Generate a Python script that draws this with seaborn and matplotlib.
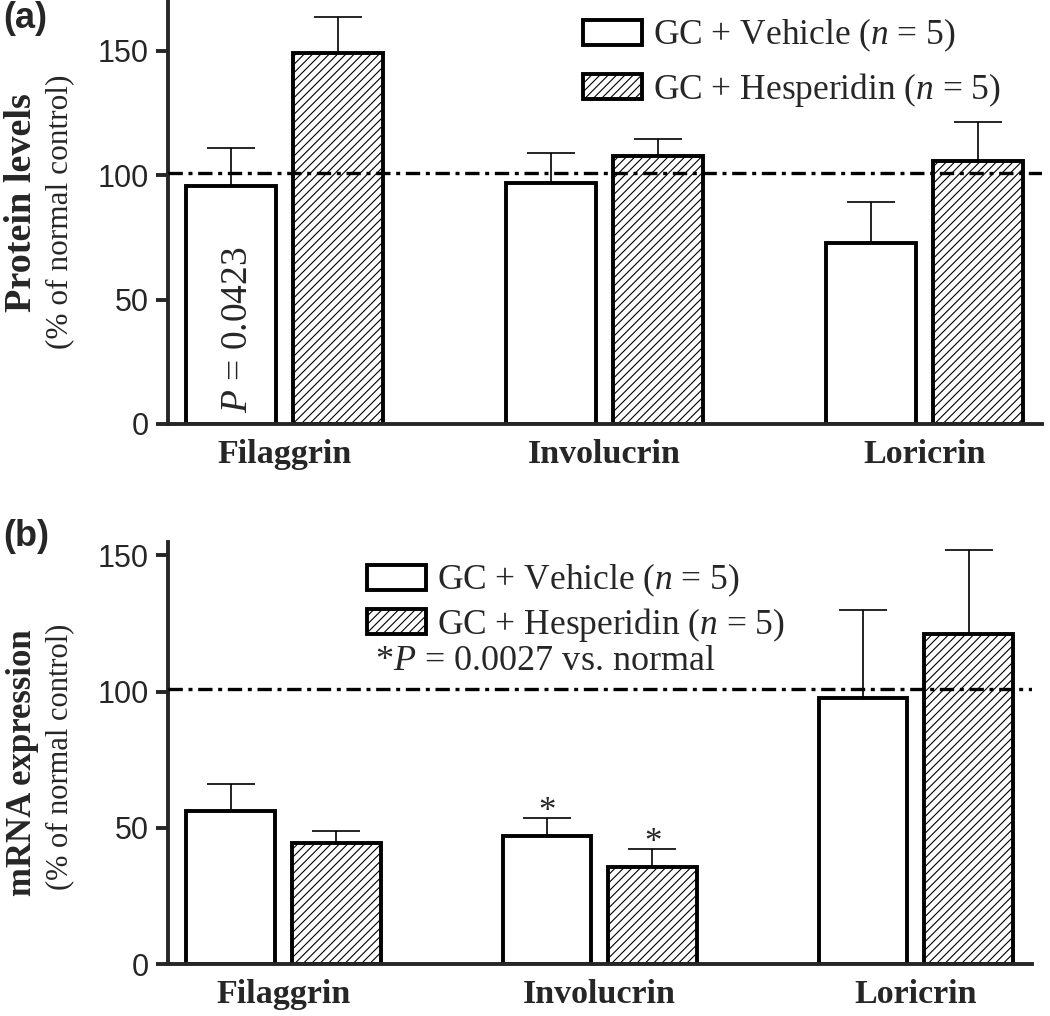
import matplotlib
matplotlib.use("Agg")
import matplotlib.pyplot as plt
import seaborn as sns
import pandas as pd

# ========== data ==========
genes = ['Filaggrin', 'Involucrin', 'Loricrin']
groups = ['GC + Vehicle ($n$ = 5)', 'GC + Hesperidin ($n$ = 5)']

protein_vehicle = [95.5, 96.8, 72.7]
protein_vehicle_sem = [15.5, 12.0, 16.7]
protein_hesp = [149.0, 107.8, 105.7]
protein_hesp_sem = [14.5, 6.7, 15.8]

mrna_vehicle = [56.3, 47.0, 97.7]
mrna_vehicle_sem = [9.7, 6.5, 32.2]
mrna_hesp = [44.6, 35.8, 121.0]
mrna_hesp_sem = [4.4, 6.5, 30.9]

normal_level = 101
yticks = [0, 50, 100, 150]

sns.set_style('ticks')
plt.rcParams['font.family'] = ['Liberation Serif', 'DejaVu Serif']
plt.rcParams['mathtext.fontset'] = 'custom'
plt.rcParams['mathtext.it'] = 'Liberation Serif:italic'
plt.rcParams['mathtext.rm'] = 'Liberation Serif'
plt.rcParams['hatch.linewidth'] = 0.8

LW = 2.8
fig = plt.figure(figsize=(10.5, 10.16), dpi=100)
W, H = 1050, 1016


def px_axes(left, top, right, bottom):
    return fig.add_axes([left / W, 1 - bottom / H, (right - left) / W, (bottom - top) / H])


def draw_panel(ax, veh, veh_sem, hes, hes_sem, ymax):
    df = pd.DataFrame({
        'gene': genes * 2,
        'group': [groups[0]] * 3 + [groups[1]] * 3,
        'value': veh + hes,
    })
    sns.barplot(data=df, x='gene', y='value', hue='group', order=genes, hue_order=groups,
                palette=['white', 'white'], edgecolor='black', linewidth=LW,
                width=0.668, gap=0.16, errorbar=None, legend=False, ax=ax)
    for bar in ax.containers[1]:
        bar.set_hatch('////')
    # upper error bars only
    for cont, sems in zip(ax.containers, [veh_sem, hes_sem]):
        xs = [b.get_x() + b.get_width() / 2 for b in cont]
        ys = [b.get_height() for b in cont]
        eb = ax.errorbar(xs, ys, yerr=[[0] * 3, sems], fmt='none', ecolor='black',
                         elinewidth=1.2, capsize=17, capthick=1.2, zorder=0.5)
        eb[1][0].set_visible(False)
    ax.axhline(normal_level, color='black', lw=2.4, ls=(0, (4.3, 1.7, 1.2, 1.7)), zorder=3)
    ax.set_xlim(-0.365, 2.367)
    ax.set_ylim(0, ymax)
    ax.set_yticks(yticks)
    ax.set_xlabel('')
    ax.set_ylabel('')
    sns.despine(ax=ax)
    for s in ['left', 'bottom']:
        ax.spines[s].set_linewidth(LW)
    ax.tick_params(axis='y', length=9, width=LW, pad=5, labelsize=22)
    ax.tick_params(axis='x', length=0, pad=10.5)
    for t in ax.get_yticklabels():
        t.set_fontfamily('Liberation Sans')
    for t in ax.get_xticklabels():
        t.set_fontsize(24.5)
        t.set_fontweight('bold')
    return ax


leg_kw = dict(loc='upper left', frameon=False, bbox_transform=fig.transFigure,
              fontsize=25.5, handlelength=1.67, handleheight=0.71, handletextpad=0.3,
              borderpad=0, borderaxespad=0)

# ---- (a) protein ----
ax1 = px_axes(168, 1.2, 1042, 424)
draw_panel(ax1, protein_vehicle, protein_vehicle_sem, protein_hesp, protein_hesp_sem, 170)
ax1.legend(ax1.containers[:2], groups, bbox_to_anchor=(583 / W, 1 - 17 / H),
           labelspacing=0.46, **leg_kw)
b0 = ax1.containers[0][0]
ax1.text(b0.get_x() + b0.get_width() * 0.57, 38, '$P$ = 0.0423', rotation=90,
         ha='center', va='center', fontsize=27)

# ---- (b) mRNA ----
ax2 = px_axes(168, 541.5, 1032, 964.3)
draw_panel(ax2, mrna_vehicle, mrna_vehicle_sem, mrna_hesp, mrna_hesp_sem, 155)
ax2.legend(ax2.containers[:2], groups, bbox_to_anchor=(367 / W, 1 - 562 / H),
           labelspacing=0.18, **leg_kw)
fig.text(375 / W, 1 - 662 / H, '*$P$ = 0.0027 vs. normal', fontsize=26, ha='left', va='center')
# significance stars over Involucrin
for cont, sems in zip(ax2.containers[:2], [mrna_vehicle_sem, mrna_hesp_sem]):
    b = cont[1]
    ax2.text(b.get_x() + b.get_width() / 2, b.get_height() + sems[1] - 4.0, '*',
             ha='center', va='bottom', fontsize=25)

# ---- axis titles and panel letters ----
fig.text(22 / W, 1 - 203 / H, 'Protein levels', rotation=90, ha='center', va='center',
         fontsize=27.5, fontweight='bold')
fig.text(60 / W, 1 - 212 / H, '(% of normal control)', rotation=90, ha='center', va='center',
         fontsize=22.5)
fig.text(23 / W, 1 - 763 / H, 'mRNA expression', rotation=90, ha='center', va='center',
         fontsize=25, fontweight='bold')
fig.text(60 / W, 1 - 757 / H, '(% of normal control)', rotation=90, ha='center', va='center',
         fontsize=22)
fig.text(3 / W, 1 - 19 / H, '(a)', ha='left', va='center', fontsize=26,
         fontweight='bold', family='Liberation Sans')
fig.text(3 / W, 1 - 536 / H, '(b)', ha='left', va='center', fontsize=26,
         fontweight='bold', family='Liberation Sans')

fig.savefig('out.png', dpi=100)
